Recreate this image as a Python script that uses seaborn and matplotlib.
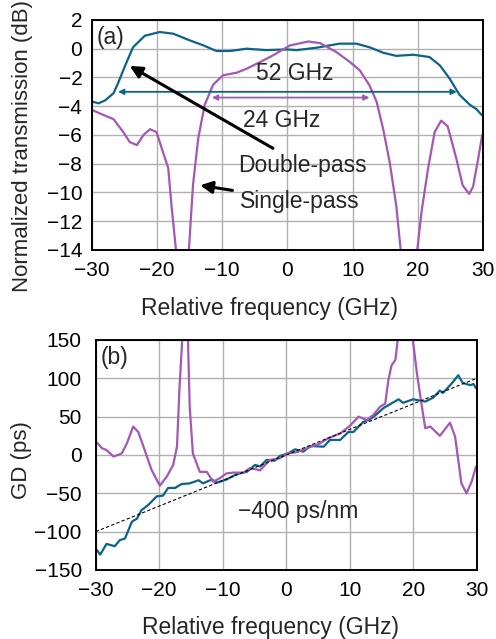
import numpy as np
import pandas as pd
import matplotlib
matplotlib.use("Agg")
import matplotlib.pyplot as plt
import seaborn as sns

# %% Data
# (a) transmission, dB
dp_freq = [-29.8, -29.0, -28.0, -26.7, -26.0, -24.9, -23.7, -21.9, -19.6, -17.5,
           -15.0, -12.9, -10.9, -8.8, -6.3, -3.2, -0.1, 1.4, 4.5, 8.0,
           10.6, 12.6, 14.7, 16.7, 19.3, 21.8, 23.4, 24.9, 26.4, 28.0,
           29.0, 29.8]
dp_trans = [-3.7, -3.8, -3.6, -3.1, -2.4, -1.16, 0.1, 0.9, 1.16, 1.04,
            0.58, 0.23, -0.16, -0.16, 0.0, -0.1, -0.05, -0.1, 0.07, 0.35,
            0.35, 0.1, -0.28, -0.5, -0.42, -0.58, -1.16, -2.08, -3.2, -3.9,
            -4.2, -4.6]

sp_freq = [-29.8, -28.3, -26.7, -25.2, -24.2, -23.1, -22.1, -21.1, -20.1, -19.1,
           -18.3, -17.8, -17.0, -16.1, -15.2, -14.5, -13.7, -12.7, -11.4, -9.9,
           -7.8, -6.3, -4.2, -2.2, 0.4, 3.2, 5.0, 7.5, 9.6, 11.1,
           12.6, 13.7, 14.7, 15.7, 16.7, 17.5, 18.6, 19.8, 20.6, 21.6,
           22.6, 23.6, 24.6, 25.9, 26.9, 27.9, 28.5, 29.3, 29.9]
sp_trans = [-4.3, -4.6, -4.9, -5.8, -6.5, -6.7, -6.0, -5.6, -5.8, -7.2,
            -8.3, -10.9, -14.5, -18.0, -14.5, -9.5, -6.25, -3.9, -2.5, -1.85,
            -1.67, -1.4, -0.93, -0.46, 0.23, 0.5, 0.39, -0.23, -0.93, -1.5,
            -2.55, -3.7, -5.6, -7.9, -10.9, -14.5, -18.0, -14.5, -11.3, -8.3,
            -5.8, -5.0, -5.4, -7.6, -9.5, -10.1, -9.6, -7.6, -6.0]

# (b) group delay, ps
gd_dp_freq = [-29.8, -29.3, -28.3, -27.0, -26.2, -25.4, -24.3, -23.5, -22.8, -21.7,
              -20.4, -19.4, -18.6, -17.5, -16.5, -15.2, -13.8, -13.1, -11.7, -10.9,
              -9.4, -7.8, -6.2, -4.9, -4.1, -3.1, -1.8, -1.0, 0.3, 1.4,
              2.7, 3.8, 5.9, 6.9, 8.5, 9.8, 10.6, 12.1, 13.2, 14.3,
              15.3, 16.1, 17.7, 18.4, 20.0, 21.9, 23.2, 24.2, 24.7, 26.1,
              27.1, 27.8, 29.0, 29.5, 29.9]
gd_dp = [-124, -130, -116, -119, -111, -109, -87, -83, -72, -65,
         -54, -53, -43, -43, -38, -37, -33, -37, -32, -36,
         -32, -25, -22, -13, -15, -6.5, -7.4, -1.3, 2, 7.4,
         4.3, 11.7, 10.8, 19.6, 19.6, 30, 30, 43, 46.5, 53.5,
         61, 65, 72.6, 68, 72.6, 69.6, 75, 84, 81, 93.5,
         104, 94, 91, 92.6, 87]

gd_sp_freq = [-29.8, -29.0, -28.3, -27.2, -25.9, -25.1, -24.1, -23.3, -22.2, -21.2,
              -19.9, -18.8, -17.8, -17.2, -16.8, -16.1, -15.6, -15.2, -14.7, -13.6,
              -12.5, -11.5, -10.4, -9.4, -8.3, -6.7, -5.7, -4.1, -2.6, -1.0,
              0.3, 1.8, 3.2, 5.3, 6.6, 8.5, 10.0, 11.4, 12.7, 13.7,
              14.8, 15.6, 16.1, 16.6, 17.2, 17.7, 18.8, 19.8, 20.6, 21.3,
              21.9, 22.7, 24.2, 25.8, 26.6, 27.6, 28.4, 29.2, 29.9]
gd_sp = [16, 8.7, 6.5, -2, 2, 15, 37, 30, 4.3, -19.6,
         -40, -28, -13, 11, 89, 190, 190, 63, 2, -22,
         -22, -35, -30, -24, -23, -23, -17, -20, -6.5, -4.3,
         2, 4, 8.7, 15, 21.7, 28, 37.8, 50, 45.6, 52,
         63, 67, 98, 117, 124, 160, 190, 160, 106, 67,
         35, 37, 25, 42, 24, -37, -50, -35, -15]

fit_freq = [-30, 30]
fit_gd = [-100, 100]

freq_ticks = [-30, -20, -10, 0, 10, 20, 30]
trans_ticks = list(range(-14, 3, 2))
gd_ticks = list(range(-150, 151, 50))

TEAL = "#0b6488"
PURPLE = "#a457b5"
LBL = 16.5
TCK = 15

trans = pd.concat([
    pd.DataFrame({"freq": dp_freq, "val": dp_trans, "pass": "Double-pass"}),
    pd.DataFrame({"freq": sp_freq, "val": sp_trans, "pass": "Single-pass"}),
])
gd = pd.concat([
    pd.DataFrame({"freq": gd_dp_freq, "val": gd_dp, "pass": "Double-pass"}),
    pd.DataFrame({"freq": gd_sp_freq, "val": gd_sp, "pass": "Single-pass"}),
])
palette = {"Double-pass": TEAL, "Single-pass": PURPLE}


def minus(vals):
    return [f"{v}".replace("-", "\u2212") for v in vals]


# %% Plot
sns.set_theme(style="whitegrid")
plt.rcParams["font.family"] = ["Liberation Sans", "DejaVu Sans"]

fig = plt.figure(figsize=(4.96, 6.39), dpi=100)
ax1 = fig.add_axes([0.1855, 0.6088, 0.788, 0.36])
ax2 = fig.add_axes([0.193, 0.108, 0.768, 0.36])

for ax in (ax1, ax2):
    ax.set_facecolor("white")
    ax.grid(True, color="#b0b0b0", lw=1.0)
    for s in ax.spines.values():
        s.set_color("black")
        s.set_linewidth(1.4)
    ax.tick_params(direction="in", length=3, width=1, colors="black",
                   labelsize=TCK)
    ax.tick_params(axis="x", pad=8)

ax1.tick_params(axis="y", pad=7)
ax2.tick_params(axis="y", pad=10)

sns.lineplot(data=trans, x="freq", y="val", hue="pass", palette=palette,
             sort=False, estimator=None, lw=1.6, legend=False, ax=ax1)
ax1.set_xlim(-30, 30)
ax1.set_ylim(-14, 2)
ax1.set_xticks(freq_ticks)
ax1.set_xticklabels(minus(freq_ticks))
ax1.set_yticks(trans_ticks)
ax1.set_yticklabels(minus(trans_ticks))
ax1.set_xlabel("Relative frequency (GHz)", fontsize=LBL)
ax1.set_ylabel("Normalized transmission (dB)", fontsize=16)
ax1.xaxis.set_label_coords(0.455, -0.205)
ax1.yaxis.set_label_coords(-0.151, 0.45)
ax1.text(0.012, 0.975, "(a)", transform=ax1.transAxes, ha="left", va="top", fontsize=LBL)

# bandwidth arrows
ax1.annotate("", xy=(-26, -3), xytext=(26, -3),
             arrowprops=dict(arrowstyle="<|-|>", color=TEAL, lw=1.3,
                             mutation_scale=8, shrinkA=0, shrinkB=0))
ax1.text(1.1, -1.75, "52 GHz", ha="center", va="center", fontsize=LBL)
ax1.annotate("", xy=(-11.6, -3.4), xytext=(12.6, -3.4),
             arrowprops=dict(arrowstyle="<|-|>", color=PURPLE, lw=1.3,
                             mutation_scale=8, shrinkA=0, shrinkB=0))
ax1.text(-0.9, -5.0, "24 GHz", ha="center", va="center", fontsize=LBL)

ax1.annotate("Double-pass", xy=(-24.2, -1.2), xytext=(-7.6, -8.1),
             ha="left", va="center", fontsize=LBL,
             arrowprops=dict(arrowstyle="-|>", color="black", lw=2.2,
                             mutation_scale=18, shrinkA=3, shrinkB=0))
ax1.annotate("Single-pass", xy=(-13.4, -9.5), xytext=(-7.3, -10.6),
             ha="left", va="center", fontsize=LBL,
             arrowprops=dict(arrowstyle="-|>", color="black", lw=2.2,
                             mutation_scale=18, shrinkA=3, shrinkB=0))

sns.lineplot(data=gd, x="freq", y="val", hue="pass", palette=palette,
             sort=False, estimator=None, lw=1.6, legend=False, ax=ax2)
ax2.plot(fit_freq, fit_gd, color="black", lw=0.8, ls=(0, (3, 2)))
ax2.set_xlim(-30, 30)
ax2.set_ylim(-150, 150)
ax2.set_xticks(freq_ticks)
ax2.set_xticklabels(minus(freq_ticks))
ax2.set_yticks(gd_ticks)
ax2.set_yticklabels(minus(gd_ticks))
ax2.set_xlabel("Relative frequency (GHz)", fontsize=LBL)
ax2.set_ylabel("GD (ps)", fontsize=16)
ax2.xaxis.set_label_coords(0.46, -0.2)
ax2.yaxis.set_label_coords(-0.167, 0.478)
ax2.text(0.012, 0.975, "(b)", transform=ax2.transAxes, ha="left", va="top", fontsize=LBL)
ax2.text(1.9, -74, "\u2212400 ps/nm", ha="center", va="center", fontsize=LBL)

fig.savefig("out.png", dpi=100)
